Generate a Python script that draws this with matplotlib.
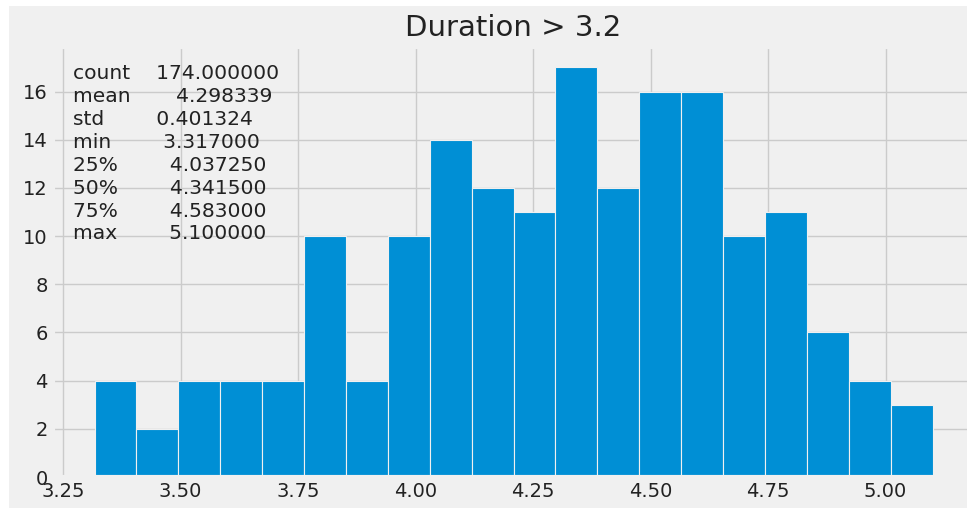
import matplotlib
matplotlib.use("Agg")
import matplotlib.pyplot as plt
import numpy as np
from matplotlib.patches import Rectangle

# histogram counts for eruptions with duration > 3.2 (20 bins)
counts = [4, 2, 4, 4, 4, 10, 4, 10, 14, 12, 11, 17, 12, 16, 16, 10, 11, 6, 4, 3]
dur_min = 3.317
dur_max = 5.100

# describe() output shown in the corner
stat_names = ["count", "mean", "std", "min", "25%", "50%", "75%", "max"]
stat_values = [174.0, 4.298339, 0.401324, 3.317, 4.03725, 4.3415, 4.583, 5.1]

title = "Duration > 3.2"

plt.style.use("fivethirtyeight")

fig = plt.figure(figsize=(9.67, 5.08), dpi=100, facecolor="white")
# screenshot-like white strip on left/top
fig.patches.append(
    Rectangle((9 / 967, 0), 1, (508 - 6) / 508, transform=fig.transFigure,
              facecolor="#f0f0f0", edgecolor="none", zorder=-10)
)
ax = fig.add_axes([0.0544, 0.061, 0.9533, 0.8465])

edges = np.linspace(dur_min, dur_max, len(counts) + 1)
ax.hist(edges[:-1], bins=edges, weights=counts, color="#008fd5",
        edgecolor="#f0f0f0", linewidth=0.8)

ax.set_xticks([3.25, 3.50, 3.75, 4.00, 4.25, 4.50, 4.75, 5.00])
ax.set_xticklabels(["3.25", "3.50", "3.75", "4.00", "4.25", "4.50", "4.75", "5.00"])
ax.set_yticks(range(0, 17, 2))
ax.tick_params(labelsize=14, labelcolor="#222222")
ax.set_title(title, fontsize=21, pad=8, color="#222222")

# pandas-style describe string
lines = []
for name, val in zip(stat_names, stat_values):
    s = f"{val:.6f}"
    lines.append(name + " " * (19 - len(name) - len(s)) + s)
desc = "\n".join(lines)
ax.text(0.0218, 0.96, desc, transform=ax.transAxes, va="top", ha="left",
        fontsize=14.6, linespacing=1.26, color="#222222")

fig.savefig("out.png", dpi=100, facecolor=fig.get_facecolor())
